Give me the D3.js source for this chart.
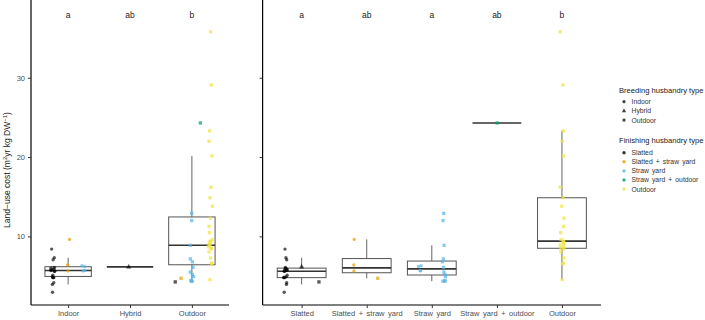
<!DOCTYPE html>
<html>
<head>
<meta charset="utf-8">
<script src="https://cdn.jsdelivr.net/npm/d3@7"></script>
<style>
  body { margin: 0; background: #fff; }
  svg { display: block; font-family: "Liberation Sans", Arial, sans-serif; }
</style>
</head>
<body>
<svg width="705" height="320"></svg>
<script>
const breedingTypes = ['Indoor', 'Hybrid', 'Outdoor'];
const finishingTypes = ['Slatted', 'Slatted + straw yard', 'Straw yard', 'Straw yard + outdoor', 'Outdoor'];
const breedingLetters = ['a', 'ab', 'b'];
const finishingLetters = ['a', 'ab', 'a', 'ab', 'b'];
const yTicks = [10, 20, 30];

// land-use cost values, by breeding x finishing type
const indoorSlatted = [8.4, 7.3, 7.05, 6.1, 6.0, 5.9, 5.8, 5.75, 5.7, 5.6, 5.6, 5.1, 4.9, 4.85, 4.8, 4.8, 4.15, 3.95, 2.95];
const indoorSlattedStraw = [9.62, 6.4, 5.65];
const indoorStrawYard = [6.3, 6.2, 5.7, 5.65];
const hybridSlatted = [6.15];
const outdoorSlatted = [4.26];
const outdoorSlattedStraw = [4.72];
const outdoorStrawYard = [12.9, 12.0, 8.87, 7.16, 6.8, 6.1, 5.5, 5.2, 4.93, 4.45, 4.35, 4.35];
const outdoorStrawYardOutdoor = [24.3];
const outdoorOutdoor = [35.8, 29.1, 23.3, 22.0, 20.15, 16.2, 14.87, 13.8, 12.3, 11.26, 10.47, 9.6, 9.4, 9.3,
  9.25, 8.96, 8.9, 8.67, 8.5, 8.45, 8.04, 7.28, 6.65, 6.53, 4.55];

const groups = [
  ['Indoor', 'Slatted', indoorSlatted],
  ['Indoor', 'Slatted + straw yard', indoorSlattedStraw],
  ['Indoor', 'Straw yard', indoorStrawYard],
  ['Hybrid', 'Slatted', hybridSlatted],
  ['Outdoor', 'Slatted', outdoorSlatted],
  ['Outdoor', 'Slatted + straw yard', outdoorSlattedStraw],
  ['Outdoor', 'Straw yard', outdoorStrawYard],
  ['Outdoor', 'Straw yard + outdoor', outdoorStrawYardOutdoor],
  ['Outdoor', 'Outdoor', outdoorOutdoor]
];
const data = groups.flatMap(([b, f, vals]) => vals.map(v => ({ breeding: b, finishing: f, value: v })));

const colour = d3.scaleOrdinal()
  .domain(finishingTypes)
  .range(['#000000', '#E69F00', '#56B4E9', '#009E73', '#F0E442']);
const shape = d3.scaleOrdinal()
  .domain(breedingTypes)
  .range([d3.symbolCircle, d3.symbolTriangle, d3.symbolSquare]);
const shapeSize = { Indoor: 9, Hybrid: 12, Outdoor: 11 };

const svg = d3.select('svg');
const plotTop = 0, plotBottom = 305;

const y = d3.scaleLinear().domain([1.35, 39.8]).range([plotBottom, plotTop]);
const xLeft = d3.scalePoint().domain(breedingTypes).range([31, 229]).padding(0.6);
const xRight = d3.scalePoint().domain(finishingTypes).range([262.6, 601]).padding(0.6);

const rng = d3.randomLcg(7);

function boxStats(vals) {
  const s = vals.slice().sort(d3.ascending);
  const q1 = d3.quantileSorted(s, 0.25), med = d3.quantileSorted(s, 0.5), q3 = d3.quantileSorted(s, 0.75);
  const iqr = q3 - q1;
  const lo = d3.min(s.filter(v => v >= q1 - 1.5 * iqr));
  const hi = d3.max(s.filter(v => v <= q3 + 1.5 * iqr));
  return { q1, med, q3, lo, hi };
}

function panel(x, key, dodgeKey, dodgeLevels, letters, showLabels) {
  const g = svg.append('g');
  const step = x.step();
  const half = step * 0.375;

  // boxplots
  x.domain().forEach(cat => {
    const vals = data.filter(d => d[key] === cat).map(d => d.value);
    if (!vals.length) return;
    const st = boxStats(vals);
    const cx = x(cat);
    const bg = g.append('g').attr('fill', 'none');
    bg.append('line').attr('x1', cx).attr('x2', cx).attr('y1', y(st.q3)).attr('y2', y(st.hi))
      .attr('stroke', '#666').attr('stroke-width', 1);
    bg.append('line').attr('x1', cx).attr('x2', cx).attr('y1', y(st.q1)).attr('y2', y(st.lo))
      .attr('stroke', '#666').attr('stroke-width', 1);
    bg.append('rect').attr('x', cx - half).attr('width', half * 2)
      .attr('y', y(st.q3)).attr('height', y(st.q1) - y(st.q3))
      .attr('stroke', '#555').attr('stroke-width', 1);
    bg.append('line').attr('x1', cx - half).attr('x2', cx + half).attr('y1', y(st.med)).attr('y2', y(st.med))
      .attr('stroke', '#333').attr('stroke-width', 1.6);
  });

  // points, dodged by the other grouping
  x.domain().forEach(cat => {
    const sub = data.filter(d => d[key] === cat);
    const present = dodgeLevels.filter(l => sub.some(d => d[dodgeKey] === l));
    const slot = step * 0.75 / present.length;
    sub.forEach(d => {
      const k = present.indexOf(d[dodgeKey]);
      const px = x(cat) + (k - (present.length - 1) / 2) * slot + (rng() - 0.5) * 4;
      g.append('path')
        .attr('d', d3.symbol(shape(d.breeding), shapeSize[d.breeding])())
        .attr('transform', `translate(${px},${y(d.value)})`)
        .attr('fill', colour(d.finishing))
        .attr('fill-opacity', d.finishing === 'Slatted' ? 0.65 : 0.7);
    });
  });

  // significance letters
  g.selectAll('.letter').data(x.domain()).enter().append('text')
    .attr('x', d => x(d)).attr('y', 18)
    .attr('text-anchor', 'middle').attr('font-size', '8.5px').attr('fill', '#222')
    .text((d, i) => letters[i]);

  // axes
  const xa = g.append('g').attr('transform', `translate(0,${plotBottom})`)
    .call(d3.axisBottom(x).tickSize(3).tickPadding(2.5).tickSizeOuter(0));
  xa.select('.domain').attr('d', `M${x.range()[0]},0H${x.range()[1]}`).attr('stroke', '#000').attr('stroke-width', 1.2);
  xa.selectAll('.tick line').attr('stroke', '#333');
  xa.selectAll('.tick text').attr('font-size', '7.5px').attr('fill', '#4d4d4d')
    .attr('word-spacing', '1.5px').attr('font-family', null);

  const ya = g.append('g').attr('transform', `translate(${x.range()[0]},0)`)
    .call(d3.axisLeft(y).tickValues(yTicks).tickSize(3).tickPadding(3).tickSizeOuter(0)
      .tickFormat(showLabels ? d3.format('d') : ''));
  ya.select('.domain').attr('d', `M0,${plotBottom}V${plotTop}`).attr('stroke', '#000').attr('stroke-width', 1.2);
  ya.selectAll('.tick line').attr('stroke', '#333');
  ya.selectAll('.tick text').attr('font-size', '7.5px').attr('fill', '#4d4d4d').attr('font-family', null);
}

panel(xLeft, 'breeding', 'finishing', finishingTypes, breedingLetters, true);
panel(xRight, 'finishing', 'breeding', breedingTypes, finishingLetters, false);

// y axis title
const yt = svg.append('text')
  .attr('transform', 'translate(10,170) rotate(-90)')
  .attr('text-anchor', 'middle').attr('font-size', '8.5px').attr('fill', '#222');
yt.append('tspan').text('Land\u2212use cost (m');
yt.append('tspan').attr('font-size', '6px').attr('dy', -3).text('2');
yt.append('tspan').attr('dy', 3).text('yr kg DW');
yt.append('tspan').attr('font-size', '6px').attr('dy', -3).text('\u22121');
yt.append('tspan').attr('dy', 3).text(')');

// legends
const lg = svg.append('g').attr('transform', 'translate(619,0)');
lg.append('text').attr('x', 0).attr('y', 92.5).attr('font-size', '7.6px').attr('fill', '#222')
  .text('Breeding husbandry type');
breedingTypes.forEach((b, i) => {
  const yy = 101.7 + i * 9.2;
  lg.append('path').attr('d', d3.symbol(shape(b), 8)())
    .attr('transform', `translate(5,${yy})`).attr('fill', '#000').attr('fill-opacity', 0.75);
  lg.append('text').attr('x', 12.5).attr('y', yy + 2.4).attr('font-size', '6.8px').attr('fill', '#333')
    .attr('word-spacing', '1.2px').text(b);
});
lg.append('text').attr('x', 0).attr('y', 143).attr('font-size', '7.6px').attr('fill', '#222')
  .text('Finishing husbandry type');
finishingTypes.forEach((f, i) => {
  const yy = 152.7 + i * 9.1;
  lg.append('path').attr('d', d3.symbol(d3.symbolCircle, 9)())
    .attr('transform', `translate(5,${yy})`).attr('fill', colour(f)).attr('fill-opacity', 0.8);
  lg.append('text').attr('x', 12.5).attr('y', yy + 2.4).attr('font-size', '6.8px').attr('fill', '#333')
    .attr('word-spacing', '1.2px').text(f);
});
</script>
</body>
</html>
